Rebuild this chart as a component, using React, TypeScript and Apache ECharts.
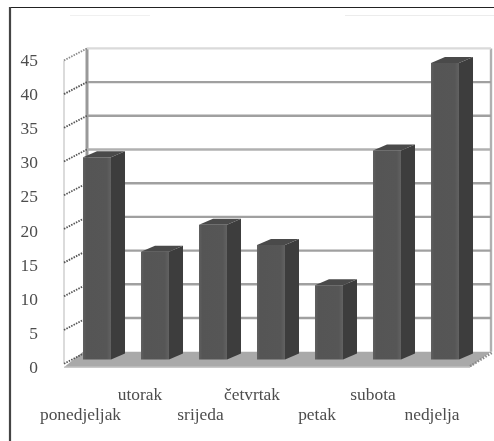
import React, { useEffect, useRef } from "react";
import * as echarts from "echarts";

const categories = ["ponedjeljak", "utorak", "srijeda", "četvrtak", "petak", "subota", "nedjelja"];
const visitValues = [30, 16, 20, 17, 11, 31, 44];
const yTicks = [0, 5, 10, 15, 20, 25, 30, 35, 40, 45];

const WIDTH = 494;
const HEIGHT = 441;
const TEXT_COLOR = "#4d4d4d";
const FONT = "'Liberation Serif', serif";

// Hand-placed label offsets of the reference, in pixels along x.
const labelNudge = [-2.5, -1, 1.5, -5, 2, 0, 1];

// Depth of the pseudo-3D box, relative to the front plane of the bars.
const WALL_LEFT_FRONT = 64;
const WALL_LEFT_BACK = 87;
const WALL_RIGHT_BACK = 491;
const WALL_RIGHT_FRONT = 470;
const BACK_SHIFT_Y = -7.8;
const SIDE_RISE = 12;
const BAR_DEPTH_X = 14;
const BAR_DEPTH_Y = -6;

function renderFrame(params: any, api: any) {
  const v = api.value(1);
  const backY = api.coord([0, v])[1] + BACK_SHIFT_Y;
  const children: any[] = [];
  if (v === 0) {
    const floorBottom = backY + 15.5;
    children.push({
      type: "polygon",
      shape: {
        points: [
          [WALL_LEFT_FRONT, floorBottom],
          [WALL_LEFT_BACK - 4, backY],
          [WALL_RIGHT_BACK, backY],
          [WALL_RIGHT_FRONT, floorBottom],
        ],
      },
      style: { fill: "#a9a9a9" },
    });
    children.push({
      type: "line",
      shape: { x1: WALL_LEFT_FRONT, y1: floorBottom, x2: WALL_RIGHT_FRONT, y2: floorBottom },
      style: { stroke: "#c9c9c9", lineWidth: 1.5 },
    });
    children.push({
      type: "line",
      shape: { x1: WALL_RIGHT_FRONT, y1: floorBottom - 1, x2: WALL_RIGHT_BACK + 1, y2: backY + 1 },
      style: { stroke: "#8a8a8a", lineWidth: 2.5, lineDash: [1.5, 1.5] },
    });
    const topY = api.coord([0, 45])[1] + BACK_SHIFT_Y;
    const edges: [number, number, number, number, string, number][] = [
      [WALL_LEFT_FRONT, topY + SIDE_RISE, WALL_LEFT_FRONT, floorBottom - 4, "#cfcfcf", 1.5],
      [WALL_LEFT_BACK, topY, WALL_LEFT_BACK, backY, "#999999", 3],
      [WALL_RIGHT_BACK, topY, WALL_RIGHT_BACK, backY, "#b0b0b0", 2.4],
    ];
    edges.forEach(([x1, y1, x2, y2, stroke, lineWidth]) =>
      children.push({ type: "line", shape: { x1, y1, x2, y2 }, style: { stroke, lineWidth } })
    );
  }
  children.push({
    type: "line",
    shape: { x1: WALL_LEFT_BACK, y1: backY, x2: WALL_RIGHT_BACK, y2: backY },
    style: { stroke: v === 45 ? "#dadada" : v === 30 ? "#b0b0b0" : "#a0a0a0", lineWidth: v === 0 ? 0 : 2.4 },
  });
  children.push({
    type: "line",
    shape: { x1: WALL_LEFT_FRONT, y1: backY + SIDE_RISE, x2: WALL_LEFT_BACK, y2: backY },
    style: { stroke: v === 45 ? "#8a8a8a" : "#555555", lineWidth: 1.8, lineDash: [1.5, 1.2] },
  });
  return { type: "group", children };
}

function renderBar(params: any, api: any) {
  const top = api.coord([api.value(0), api.value(1)]);
  const base = api.coord([api.value(0), 0]);
  const w = api.size([1, 0])[0] * 0.483;
  const x0 = top[0] - w / 2;
  const x1 = x0 + w;
  const dx = BAR_DEPTH_X;
  const dy = BAR_DEPTH_Y;
  const gradient = new echarts.graphic.LinearGradient(0, 0, 1, 0, [
    { offset: 0, color: "#606060" },
    { offset: 0.12, color: "#555555" },
    { offset: 0.85, color: "#565656" },
    { offset: 1, color: "#626262" },
  ]);
  return {
    type: "group",
    children: [
      {
        type: "polygon",
        shape: { points: [[x1, top[1]], [x1 + dx, top[1] + dy], [x1 + dx, base[1] + dy], [x1, base[1]]] },
        style: { fill: "#3d3d3d" },
      },
      {
        type: "polygon",
        shape: { points: [[x0, top[1]], [x0 + dx, top[1] + dy], [x1 + dx, top[1] + dy], [x1, top[1]]] },
        style: { fill: "#4a4a4a" },
      },
      {
        type: "rect",
        shape: { x: x0, y: top[1], width: w, height: base[1] - top[1] },
        style: { fill: gradient },
      },
    ],
  };
}

export default function App() {
  const ref = useRef<HTMLDivElement>(null);

  useEffect(() => {
    document.body.style.margin = "0";
    const chart = echarts.init(ref.current!, null, { renderer: "svg" });
    chart.setOption({
      animation: false,
      backgroundColor: "#ffffff",
      textStyle: { fontFamily: FONT },
      grid: [
        { left: 68, width: 406, top: 56.2, height: 303.3 },
        { left: 54, width: 406, top: 60, height: 307 },
      ],
      xAxis: [
        { gridIndex: 0, type: "category", data: categories, show: false },
        {
          gridIndex: 1,
          type: "category",
          data: categories.map((value, i) => ({
            value,
            textStyle: {
              padding: [0, Math.max(0, -2 * labelNudge[i]), 0, Math.max(0, 2 * labelNudge[i])],
            },
          })),
          axisLine: { show: false },
          axisTick: { show: false },
          splitLine: { show: false },
          axisLabel: {
            interval: 0,
            hideOverlap: false,
            margin: 17,
            fontFamily: FONT,
            fontSize: 17.4,
            lineHeight: 20,
            color: TEXT_COLOR,
            formatter: (value: string, index: number) => (index % 2 === 0 ? `\n${value}` : value),
          },
        },
      ],
      yAxis: [
        { gridIndex: 0, type: "value", min: 0, max: 45, interval: 5, show: false },
        {
          gridIndex: 1,
          type: "value",
          min: 0,
          max: 45,
          interval: 5,
          axisLine: { show: false },
          axisTick: { show: false },
          splitLine: { show: false },
          axisLabel: { margin: 16, fontFamily: FONT, fontSize: 17.4, color: TEXT_COLOR },
        },
      ],
      graphic: [
        { type: "line", silent: true, shape: { x1: 10, y1: 7.5, x2: WIDTH, y2: 7.5 }, style: { stroke: "#222222", lineWidth: 1.2 } },
        { type: "line", silent: true, shape: { x1: 10, y1: 7, x2: 10, y2: HEIGHT }, style: { stroke: "#444444", lineWidth: 2.2 } },
        { type: "line", silent: true, shape: { x1: 70, y1: 15.5, x2: 150, y2: 15.5 }, style: { stroke: "#f0f0f0", lineWidth: 1 } },
        { type: "line", silent: true, shape: { x1: 345, y1: 15.5, x2: WIDTH, y2: 15.5 }, style: { stroke: "#ececec", lineWidth: 1 } },
      ],
      series: [
        {
          type: "custom",
          name: "frame",
          xAxisIndex: 0,
          yAxisIndex: 0,
          silent: true,
          clip: false,
          z: 1,
          data: yTicks.map((t) => [0, t]),
          encode: { x: 0, y: 1 },
          renderItem: renderFrame,
        },
        {
          type: "custom",
          name: "dani",
          xAxisIndex: 0,
          yAxisIndex: 0,
          silent: true,
          clip: false,
          z: 3,
          data: visitValues.map((v, i) => [i, v]),
          encode: { x: 0, y: 1 },
          renderItem: renderBar,
        },
      ],
    });
    return () => chart.dispose();
  }, []);

  return (
    <div
      ref={ref}
      style={{
        position: "absolute",
        left: 0,
        top: 0,
        width: WIDTH,
        height: HEIGHT,
        background: "#fff",
        filter: "blur(0.5px)",
      }}
    />
  );
}
